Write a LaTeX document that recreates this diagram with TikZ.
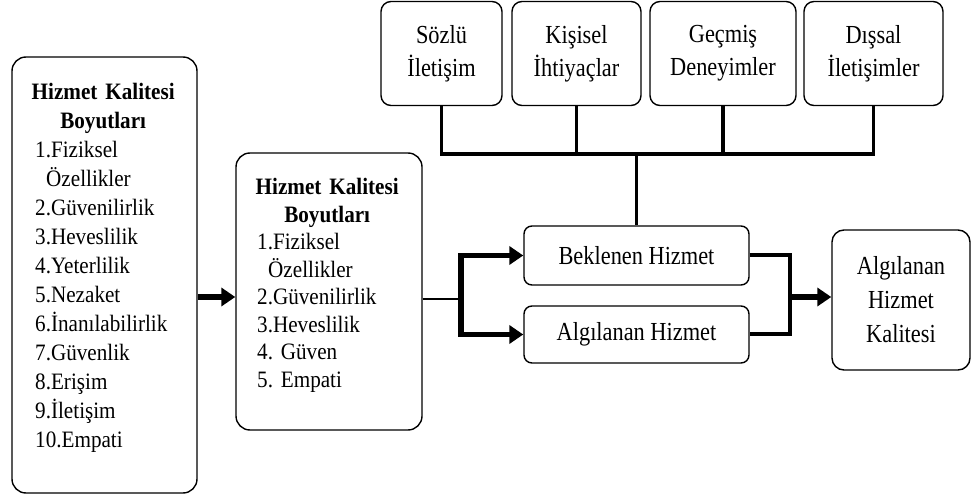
\documentclass[tikz,border=0pt]{standalone}
\usepackage{fontspec}
\setmainfont{Liberation Serif}[FakeStretch=0.86]
\newfontfamily\listfamily{Liberation Serif}[FakeStretch=0.9]
\usetikzlibrary{arrows.meta}
\newcommand{\ctitle}[1]{\makebox[\linewidth][c]{\textbf{#1}}}
\begin{document}
\begin{tikzpicture}[x=1pt,y=-1pt,
  box/.style={draw, line width=1.4pt, rounded corners=#1, inner sep=0pt},
  box/.default=10pt,
  listfont/.style={font=\listfamily\fontsize{23.5}{#1}\selectfont, align=left, inner sep=0pt, anchor=north west},
  bigfont/.style={font=\fontsize{26}{33}\selectfont, align=center},
  conn/.style={line width=3.2pt},
  thinconn/.style={line width=2.3pt},
  barrow/.style={line width=5.5pt, -{Triangle[length=14pt,width=18pt]}}
]
\useasboundingbox (0,0) rectangle (972,494);

% left dimension box
\node[box=14pt, minimum width=185pt, minimum height=436pt] (dimA) at (104.5,275) {};
\node[listfont=29pt, text width=136pt] (dimAtext) at (35,83)
  {\ctitle{Hizmet Kalitesi}\\
   \ctitle{Boyutları}\\
   1.Fiziksel\\
   \hspace*{11pt}Özellikler\\
   2.Güvenilirlik\\
   3.Heveslilik\\
   4.Yeterlilik\\
   5.Nezaket\\
   6.İnanılabilirlik\\
   7.Güvenlik\\
   8.Erişim\\
   9.İletişim\\
   10.Empati};

% second dimension box
\node[box=14pt, minimum width=186pt, minimum height=277pt] (dimB) at (329,291.5) {};
\node[listfont=27.5pt, text width=140pt] (dimBtext) at (257,178)
  {\ctitle{Hizmet Kalitesi}\\
   \ctitle{Boyutları}\\
   1.Fiziksel\\
   \hspace*{11pt}Özellikler\\
   2.Güvenilirlik\\
   3.Heveslilik\\
   4.\ Güven\\
   5.\ Empati};

% top boxes
\node[box, bigfont, minimum width=121pt, minimum height=104pt] (soz) at (441.5,53.5) {Sözlü\\İletişim};
\node[box, bigfont, minimum width=129pt, minimum height=104pt] (kis) at (576.5,53.5) {Kişisel\\İhtiyaçlar};
\node[box, bigfont, minimum width=146pt, minimum height=104pt] (gec) at (723,53.5) {Geçmiş\\Deneyimler};
\node[box, bigfont, minimum width=139pt, minimum height=104pt] (dis) at (873.5,53.5) {Dışsal\\İletişimler};

% service boxes
\node[box=8pt, bigfont, minimum width=225pt, minimum height=59pt] (bek) at (636.5,255.5) {Beklenen Hizmet};
\node[box=8pt, bigfont, minimum width=225pt, minimum height=57pt] (alg) at (636.5,334.5) {Algılanan Hizmet};
\node[box=12pt, font=\fontsize{26}{34}\selectfont, align=center, minimum width=138pt, minimum height=140pt] (res) at (901,300) {Algılanan\\Hizmet\\Kalitesi};

% top connectors
\coordinate (bus) at (636.5,154);
\draw[conn] (soz.south) |- (bus) -| (dis.south);
\draw[conn] (kis.south) -- (kis.south |- bus);
\draw[conn] (gec.south) -- (gec.south |- bus);
\draw[conn] (bus) -- (bek.north);

% left arrow
\coordinate (ya) at (0,297);
\draw[barrow] (dimA.east |- ya) -- (dimB.west |- ya);

% split
\coordinate (split) at (461,299);
\draw[thinconn] (dimB.east |- split) -- (split);
\draw[barrow] (split) |- (bek.west);
\draw[barrow] (split) |- (alg.west);

% join
\coordinate (join) at (790,297);
\draw[line width=4pt] (bek.east) -| (join) |- (alg.east);
\draw[barrow] (join) -- (res.west |- join);
\end{tikzpicture}
\end{document}
